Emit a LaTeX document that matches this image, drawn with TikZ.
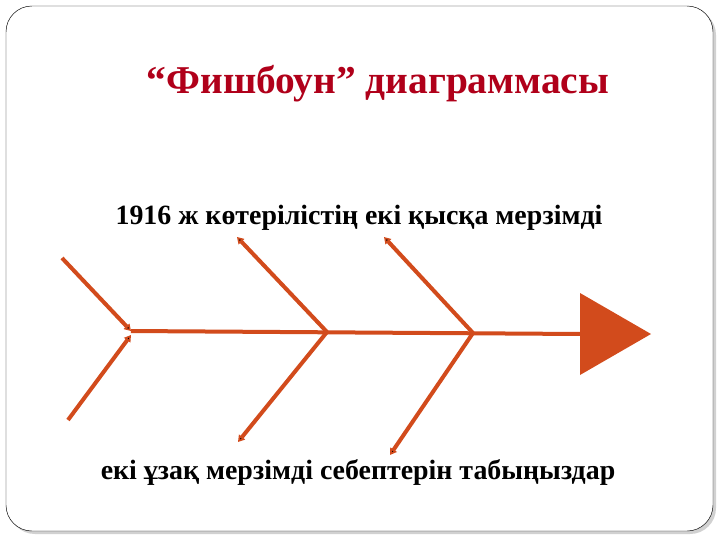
\documentclass[tikz,border=0pt]{standalone}
\usepackage{fontspec}
\setmainfont{Liberation Serif}
\usetikzlibrary{arrows.meta}
\definecolor{bonecol}{HTML}{D24B1C}
\definecolor{titlered}{HTML}{B0001A}

\begin{document}
\begin{tikzpicture}[x=0.85pt, y=-0.85pt,
    bone/.style={draw=bonecol, line width=3.4pt},
    tip/.style={-{Triangle[length=5.5pt, width=6.5pt]}},
    caption/.style={font=\bfseries\fontsize{23.7}{28}\selectfont}]
    \useasboundingbox (0,0) rectangle (720,540);
    % frame
    \fill[black!18, rounded corners=22] (9,9) rectangle (716,534);
    \draw[black, fill=white, rounded corners=22] (6,6) rectangle (713,531);
    % texts
    \node[font=\bfseries\fontsize{33.5}{40}\selectfont, text=titlered] at (378,84) (title) {“Фишбоун” диаграммасы};
    \node[caption] at (359,218) (short) {1916 ж көтерілістің екі қысқа мерзімді};
    \node[caption] at (358,472) (long) {екі ұзақ мерзімді себептерін табыңыздар};
    % spine
    \coordinate (tail) at (131,331);
    \coordinate (J1) at (327,332);
    \coordinate (J2) at (473,333);
    \coordinate (head) at (581,334);
    \path[bone] (tail) edge (head);
    \fill[bonecol] (580,293) -- (651,334) -- (580,375) -- cycle;
    % bones
    \coordinate (TL) at (62,258);
    \coordinate (BL) at (68,420);
    \coordinate (U1) at (237,237);
    \coordinate (D1) at (238,442);
    \coordinate (U2) at (384,237);
    \coordinate (D2) at (390,455);
    \path[bone] (TL) edge[tip] (tail);
    \path[bone] (BL) edge[tip] (131,335);
    \path[bone] (J1) edge[tip] (U1);
    \path[bone] (J1) edge[tip] (D1);
    \path[bone] (J2) edge[tip] (U2);
    \path[bone] (J2) edge[tip] (D2);
\end{tikzpicture}
\end{document}
